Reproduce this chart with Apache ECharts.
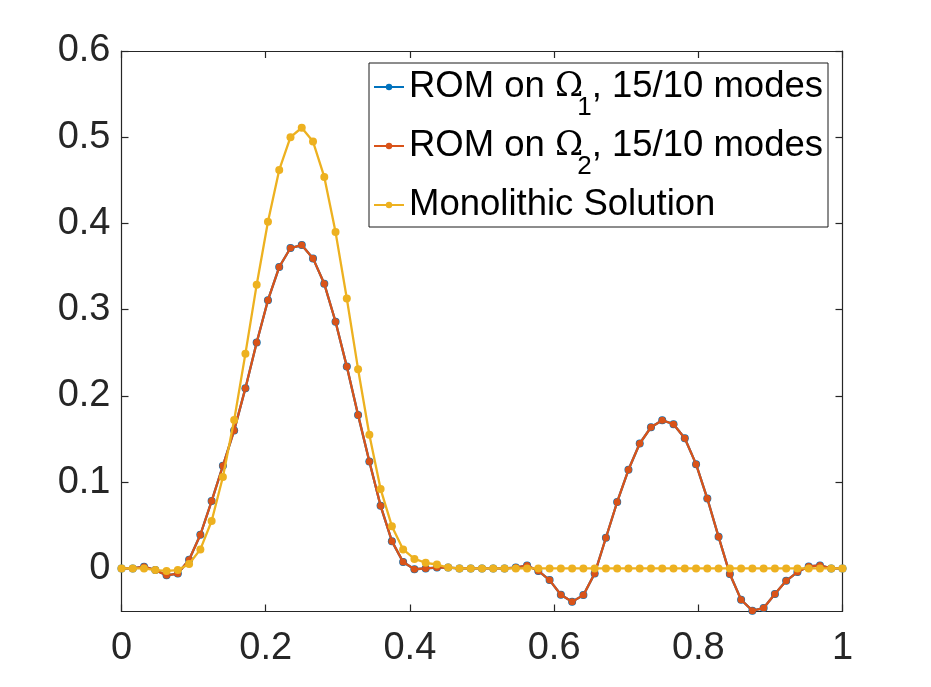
<!DOCTYPE html>
<html>
<head>
<meta charset="utf-8">
<script src="https://cdn.jsdelivr.net/npm/echarts@6/dist/echarts.min.js"></script>
<style>
html,body{margin:0;padding:0;background:#fff;}
#chart{width:931px;height:687px;}
</style>
</head>
<body>
<div id="chart"></div>
<script>
// grid points x in [0,1], 65 nodes
var xValues = [0,0.015625,0.03125,0.046875,0.0625,0.078125,0.09375,0.109375,0.125,0.140625,0.15625,0.171875,0.1875,0.203125,0.21875,0.234375,0.25,0.265625,0.28125,0.296875,0.3125,0.328125,0.34375,0.359375,0.375,0.390625,0.40625,0.421875,0.4375,0.453125,0.46875,0.484375,0.5,0.515625,0.53125,0.546875,0.5625,0.578125,0.59375,0.609375,0.625,0.640625,0.65625,0.671875,0.6875,0.703125,0.71875,0.734375,0.75,0.765625,0.78125,0.796875,0.8125,0.828125,0.84375,0.859375,0.875,0.890625,0.90625,0.921875,0.9375,0.953125,0.96875,0.984375,1];

var romOmega1 = [0,0,0.002,-0.002,-0.008,-0.006,0.010,0.039,0.078,0.119,0.160,0.209,0.262,0.311,0.3495,0.3715,0.375,0.3595,0.330,0.286,0.234,0.178,0.124,0.0725,0.0316,0.0073,-0.001,0,0.001,0.001,0,0,0,0,0,0.001,0.0034,-0.003,-0.0136,-0.0306,-0.0387,-0.031,-0.006,0.0355,0.077,0.1143,0.1448,0.1637,0.1718,0.1672,0.151,0.1209,0.081,0.0366,-0.0066,-0.0364,-0.049,-0.046,-0.0298,-0.0144,-0.0043,0.0022,0.0034,0,0];

var romOmega2 = [0,0,0.002,-0.002,-0.008,-0.006,0.010,0.039,0.078,0.119,0.160,0.209,0.262,0.311,0.3495,0.3715,0.375,0.3595,0.330,0.286,0.234,0.178,0.124,0.0725,0.0316,0.0073,-0.001,0,0.001,0.001,0,0,0,0,0,0.001,0.0034,-0.003,-0.0136,-0.0306,-0.0387,-0.031,-0.006,0.0355,0.077,0.1143,0.1448,0.1637,0.1718,0.1672,0.151,0.1209,0.081,0.0366,-0.0066,-0.0364,-0.049,-0.046,-0.0298,-0.0144,-0.0043,0.0022,0.0034,0,0];

var monolithic = [0,0,0,-0.002,-0.003,-0.002,0.005,0.022,0.055,0.106,0.172,0.249,0.329,0.402,0.462,0.500,0.511,0.495,0.454,0.390,0.313,0.231,0.155,0.092,0.049,0.022,0.011,0.0065,0.0045,0.001,0,0,0,0,0,0,0,0,0,0,0,0,0,0,0,0,0,0,0,0,0,0,0,0,0,0,0,0,0,0,0,0,0,0,0];

var yTicks = [0,0.1,0.2,0.3,0.4,0.5,0.6];
var xTicks = [0,0.2,0.4,0.6,0.8,1];
var seriesNames = ['ROM on \u03A9\u2081, 15/10 modes','ROM on \u03A9\u2082, 15/10 modes','Monolithic Solution'];

function pairs(ys){ return ys.map(function(v,i){ return [xValues[i], v]; }); }

var axisColor = '#262626';
var fontFam = '"Liberation Sans", Arial, Helvetica, sans-serif';
var lineCommon = {show: true, onZero: false, lineStyle: {color: axisColor, width: 1.2}};
var tickStyle = {color: axisColor, width: 1.2};

var chart = echarts.init(document.getElementById('chart'), null, {renderer:'canvas'});
var option = {
  animation: false,
  backgroundColor: '#ffffff',
  grid: {left: 121.5, right: 88.5, top: 51, bottom: 75.5, containLabel: false},
  xAxis: [{
    type: 'value', min: 0, max: 1, interval: 0.2, position: 'bottom',
    axisLine: lineCommon,
    axisTick: {show: true, inside: true, length: 7, lineStyle: tickStyle, customValues: xTicks},
    axisLabel: {color: axisColor, fontSize: 38, fontFamily: fontFam, margin: 18, customValues: xTicks,
      formatter: function(v){ return String(v); }},
    splitLine: {show: false}
  },{
    type: 'value', position: 'top', min: 0, max: 1, interval: 0.2,
    axisLine: lineCommon,
    axisTick: {show: true, inside: true, length: 7, lineStyle: tickStyle, customValues: xTicks},
    axisLabel: {show: false},
    splitLine: {show: false}
  }],
  yAxis: [{
    type: 'value', min: -0.05, max: 0.6, position: 'left',
    axisLine: lineCommon,
    axisTick: {show: true, inside: true, length: 7, lineStyle: tickStyle, customValues: yTicks},
    axisLabel: {color: axisColor, fontSize: 38, fontFamily: fontFam, margin: 11, customValues: yTicks,
      formatter: function(v){ return String(Math.round(v*10)/10); }},
    splitLine: {show: false}
  },{
    type: 'value', position: 'right', min: -0.05, max: 0.6,
    axisLine: lineCommon,
    axisTick: {show: true, inside: true, length: 7, lineStyle: tickStyle, customValues: yTicks},
    axisLabel: {show: false},
    splitLine: {show: false}
  }],
  legend: {
    show: true,
    orient: 'vertical',
    left: 369, top: 63,
    padding: [4, 5, 2, 4],
    itemGap: 5,
    itemWidth: 30, itemHeight: 8,
    backgroundColor: '#ffffff',
    borderColor: '#1a1a1a', borderWidth: 1, borderRadius: 0,
    data: seriesNames,
    formatter: function(name){
      var idx = seriesNames.indexOf(name);
      if (idx === 0) return 'ROM on {om|\u03A9}{sub|1}, 15/10 modes';
      if (idx === 1) return 'ROM on {om|\u03A9}{sub|2}, 15/10 modes';
      return name;
    },
    textStyle: {
      color: '#000', fontSize: 36.5, fontFamily: fontFam, lineHeight: 40,
      rich: {
        om: {fontFamily: '"DejaVu Serif", "Liberation Serif", serif', fontSize: 34, lineHeight: 40, color: '#000'},
        sub: {fontFamily: fontFam, fontSize: 26, lineHeight: 40, padding: [21, 0, -21, -6], color: '#000'}
      }
    }
  },
  series: [{
    name: seriesNames[0], type: 'line', data: pairs(romOmega1),
    xAxisIndex: 0, yAxisIndex: 0,
    symbol: 'circle', symbolSize: 8, showSymbol: true,
    lineStyle: {color: '#0072BD', width: 2.3},
    itemStyle: {color: '#0072BD'},
    z: 2
  },{
    name: seriesNames[1], type: 'line', data: pairs(romOmega2),
    xAxisIndex: 0, yAxisIndex: 0,
    symbol: 'circle', symbolSize: 7, showSymbol: true,
    lineStyle: {color: '#D95319', width: 2.3},
    itemStyle: {color: '#D95319'},
    z: 3
  },{
    name: seriesNames[2], type: 'line', data: pairs(monolithic),
    xAxisIndex: 0, yAxisIndex: 0,
    symbol: 'circle', symbolSize: 8, showSymbol: true,
    lineStyle: {color: '#EDB120', width: 2.3},
    itemStyle: {color: '#EDB120'},
    z: 4
  }]
};
chart.setOption(option);
</script>
</body>
</html>
